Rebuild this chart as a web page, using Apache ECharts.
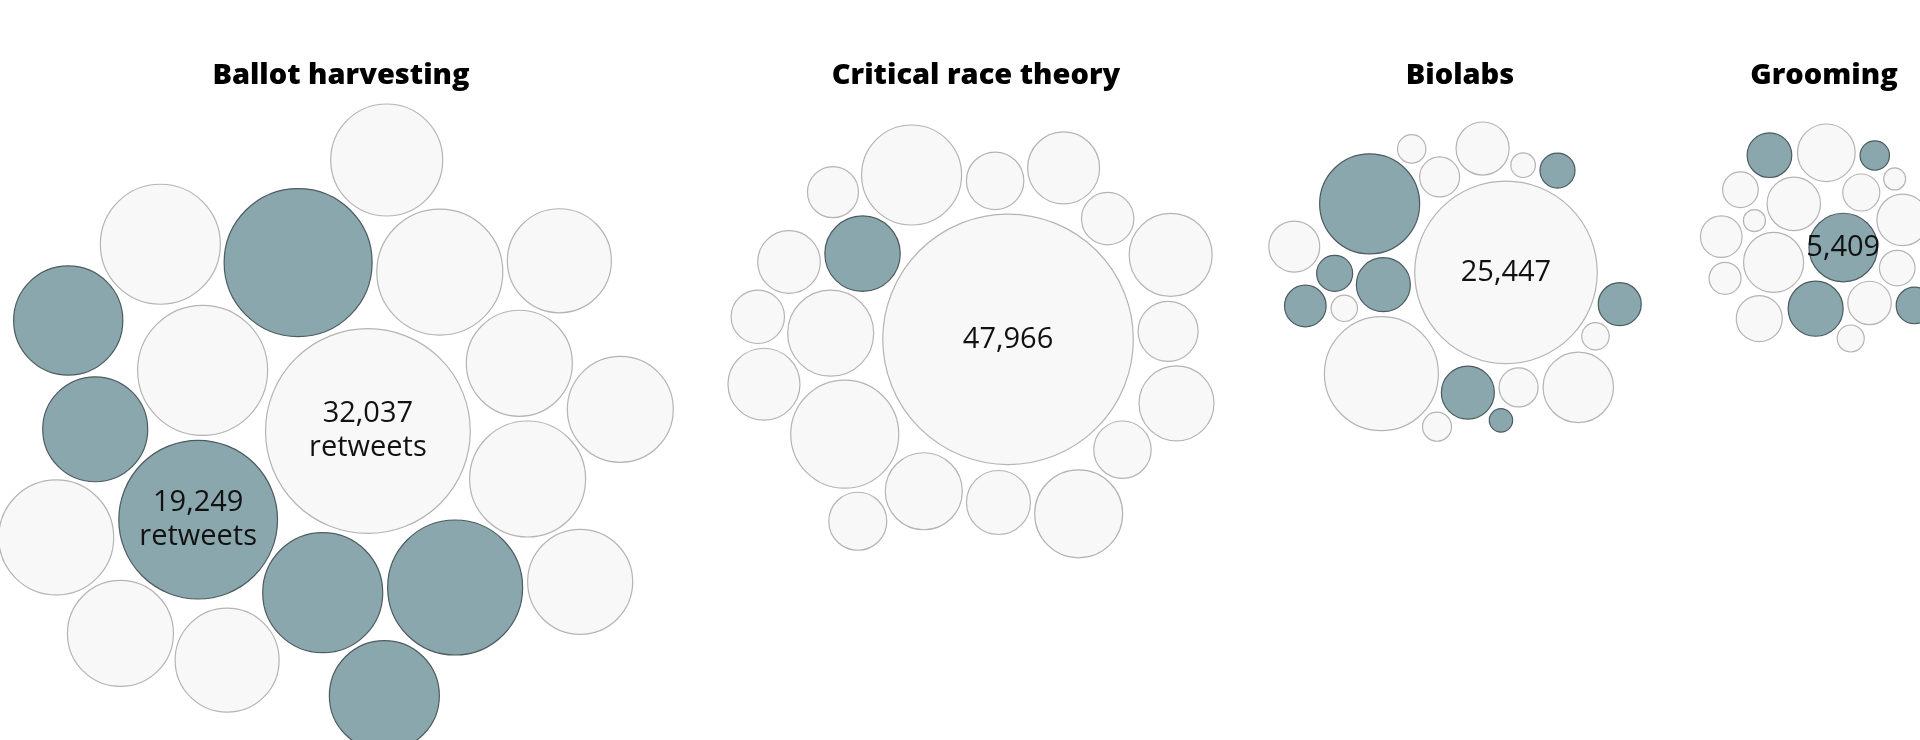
<!DOCTYPE html>
<html>
<head>
<meta charset="utf-8">
<title>Retweets by topic</title>
<script src="https://cdn.jsdelivr.net/npm/echarts@6/dist/echarts.min.js"></script>
<style>
  html, body { margin: 0; padding: 0; background: #fff; }
  #chart { width: 1920px; height: 740px; }
</style>
</head>
<body>
<div id="chart"></div>
<script>
// topics, one bubble cluster each
const topics = ['Ballot harvesting', 'Critical race theory', 'Biolabs', 'Grooming'];

// retweets per tweet (labelled ones are exact)
const ballotRetweets = [8584, 8423, 8263, 8271, 32037, 19249, 10104, 8430, 8592, 11002,
                        16735, 13924, 12912, 9584, 11010, 9244, 12129, 10280, 8577, 9110];
const ballotFlagged  = [0, 1, 0, 0, 0, 1, 0, 0, 0, 0, 1, 1, 0, 0, 1, 1, 0, 0, 0, 1];

const crtRetweets = [2994, 5650, 47966, 8911, 5916, 7640, 3960, 4343, 5263, 3958,
                     1987, 2178, 2517, 4297, 4530, 3129, 2098, 2521, 2570, 2750];
const crtFlagged  = [0, 0, 0, 0, 0, 0, 0, 1, 0, 0, 0, 0, 0, 0, 0, 0, 0, 0, 0, 0];

const biolabsRetweets = [25447, 643, 3786, 574, 7640, 532, 1987, 9929, 1162, 990,
                         1222, 1322, 2146, 2228, 936, 2150, 418, 616, 1413, 462];
const biolabsFlagged  = [0, 0, 0, 0, 1, 0, 0, 0, 0, 1, 0, 1, 1, 1, 1, 0, 1, 0, 1, 0];

const groomingRetweets = [5409, 1459, 3483, 4145, 3820, 3283, 1461, 2290, 3042, 2436,
                          2168, 1179, 1576, 1992, 1542, 995, 557, 560, 508, 839];
const groomingFlagged  = [1, 0, 1, 0, 0, 0, 0, 1, 0, 0, 0, 0, 0, 0, 1, 1, 0, 0, 0, 0];

const retweets = [ballotRetweets, crtRetweets, biolabsRetweets, groomingRetweets];
const flagged = [ballotFlagged, crtFlagged, biolabsFlagged, groomingFlagged];

// layout of the four panels
const panelX = [336, 971, 1455, 1819];
const panelTop = [104, 125, 122, 124];
const panelScale = [1, 1, 1, 0.815];
const labelCount = [2, 1, 1, 1];
const RADIUS_K = 0.572;   // px of radius per sqrt(retweet)
const PAD = 5;
const ASPECT = 1.12;      // clusters come out a little wider than tall

// small collide + centering simulation, deterministic
function pack(values, scale) {
  const nodes = values.map((v, i) => ({ i, v, r: RADIUS_K * scale * Math.sqrt(v), vx: 0, vy: 0 }));
  const meanR = nodes.reduce((s, n) => s + n.r, 0) / nodes.length;
  nodes.slice().sort((a, b) => b.v - a.v).forEach((n, k) => {
    const rad = meanR * 1.2 * Math.sqrt(k + 0.5), ang = k * Math.PI * (3 - Math.sqrt(5));
    n.x = rad * Math.cos(ang);
    n.y = rad * Math.sin(ang);
  });
  const collide = (strength) => {
    for (let a = 0; a < nodes.length; a++) {
      for (let b = a + 1; b < nodes.length; b++) {
        const p = nodes[a], q = nodes[b];
        let dx = (p.x + p.vx) - (q.x + q.vx), dy = (p.y + p.vy) - (q.y + q.vy);
        let d2 = dx * dx + dy * dy;
        const rr = p.r + q.r + PAD;
        if (d2 < rr * rr) {
          if (d2 < 1e-6) { dx = 1e-3; dy = 0; d2 = 1e-6; }
          const d = Math.sqrt(d2), l = (rr - d) / d * strength;
          const w = q.r * q.r / (p.r * p.r + q.r * q.r);
          p.vx += dx * l * w; p.vy += dy * l * w;
          q.vx -= dx * l * (1 - w); q.vy -= dy * l * (1 - w);
        }
      }
    }
  };
  for (let t = 0; t < 500; t++) {
    const pull = t < 250 ? 0.08 : 0.04;
    nodes.forEach(n => { n.vx -= n.x * pull; n.vy -= n.y * pull * ASPECT; });
    for (let it = 0; it < 3; it++) collide(0.7);
    nodes.forEach(n => { n.vx *= 0.6; n.vy *= 0.6; n.x += n.vx; n.y += n.vy; });
  }
  for (let t = 0; t < 80; t++) {
    nodes.forEach(n => { n.vx = 0; n.vy = 0; });
    collide(1);
    nodes.forEach(n => { n.x += n.vx; n.y += n.vy; });
  }

  // tuck in bubbles that stick out: move an outer one to a free
  // tangent spot nearer the middle, while any such move helps
  const centre = () => {
    let w = 0, cx = 0, cy = 0;
    nodes.forEach(n => { const a = n.r * n.r; w += a; cx += n.x * a; cy += n.y * a; });
    return [cx / w, cy / w];
  };
  for (let pass = 0; pass < 60; pass++) {
    const [cx, cy] = centre();
    const reach = (x, y, r) => Math.hypot(x - cx, (y - cy) * ASPECT) + r;
    const outer = nodes.slice().sort((a, b) => reach(b.x, b.y, b.r) - reach(a.x, a.y, a.r)).slice(0, 6);
    let moved = false;
    for (const node of outer) {
      const others = nodes.filter(n => n !== node);
      const r = node.r;
      let best = null;
      for (let a = 0; a < others.length; a++) {
        for (let b = a + 1; b < others.length; b++) {
          const A = others[a], B = others[b];
          const ra = A.r + r + PAD, rb = B.r + r + PAD;
          const d = Math.hypot(B.x - A.x, B.y - A.y);
          if (d === 0 || d > ra + rb || d < Math.abs(ra - rb)) continue;
          const m = (ra * ra - rb * rb + d * d) / (2 * d);
          const h = Math.sqrt(Math.max(0, ra * ra - m * m));
          const ux = (B.x - A.x) / d, uy = (B.y - A.y) / d;
          const px = A.x + m * ux, py = A.y + m * uy;
          [[px - h * uy, py + h * ux], [px + h * uy, py - h * ux]].forEach(([x, y]) => {
            if (!others.every(o => Math.hypot(x - o.x, y - o.y) >= o.r + r + PAD - 0.01)) return;
            const s = reach(x, y, r);
            if (!best || s < best.s) best = { x, y, s };
          });
        }
      }
      if (best && best.s < reach(node.x, node.y, r) - 3) {
        node.x = best.x; node.y = best.y;
        moved = true;
        break;
      }
    }
    if (!moved) break;
  }
  return nodes;
}

const fmt = (v) => v.toLocaleString('en-US');

const series = retweets.map((values, p) => {
  const nodes = pack(values, panelScale[p]);
  const minX = Math.min(...nodes.map(n => n.x - n.r));
  const maxX = Math.max(...nodes.map(n => n.x + n.r));
  const minY = Math.min(...nodes.map(n => n.y - n.r));
  const dx = panelX[p] - (minX + maxX) / 2, dy = panelTop[p] - minY;
  const ranked = values.map((v, i) => i).sort((a, b) => values[b] - values[a]);
  const labelled = ranked.slice(0, labelCount[p]);
  return {
    type: 'scatter',
    name: topics[p],
    symbol: 'circle',
    symbolSize: (val) => 2 * RADIUS_K * panelScale[p] * Math.sqrt(val[2]),
    silent: true,
    label: {
      show: false,
      position: 'inside',
      color: '#111',
      fontFamily: 'Open Sans',
      fontSize: 29,
      lineHeight: 34,
      formatter: (d) => p === 0 ? fmt(d.value[2]) + '\nretweets' : fmt(d.value[2])
    },
    data: nodes.map((n, i) => ({
      value: [n.x + dx, n.y + dy, values[i]],
      itemStyle: flagged[p][i]
        ? { color: '#8aa7ae', borderColor: '#4c5b5f', borderWidth: 1.2, opacity: 1 }
        : { color: '#f8f8f8', borderColor: '#b4b4b4', borderWidth: 1.2, opacity: 1 },
      label: { show: labelled.includes(i) },
      z: labelled.includes(i) ? 3 : 2
    }))
  };
});

const chart = echarts.init(document.getElementById('chart'), null, { renderer: 'canvas' });
chart.setOption({
  animation: false,
  backgroundColor: '#fff',
  title: topics.map((t, p) => ({
    text: t,
    left: panelX[p],
    top: 56,
    textAlign: 'center',
    textStyle: { fontFamily: 'Open Sans', fontWeight: 800, fontSize: 29, color: '#000' }
  })),
  grid: { left: 0, right: 0, top: 0, bottom: 0 },
  xAxis: { type: 'value', min: 0, max: 1920, show: false },
  yAxis: { type: 'value', min: 0, max: 740, inverse: true, show: false },
  series: series
});
</script>
</body>
</html>
